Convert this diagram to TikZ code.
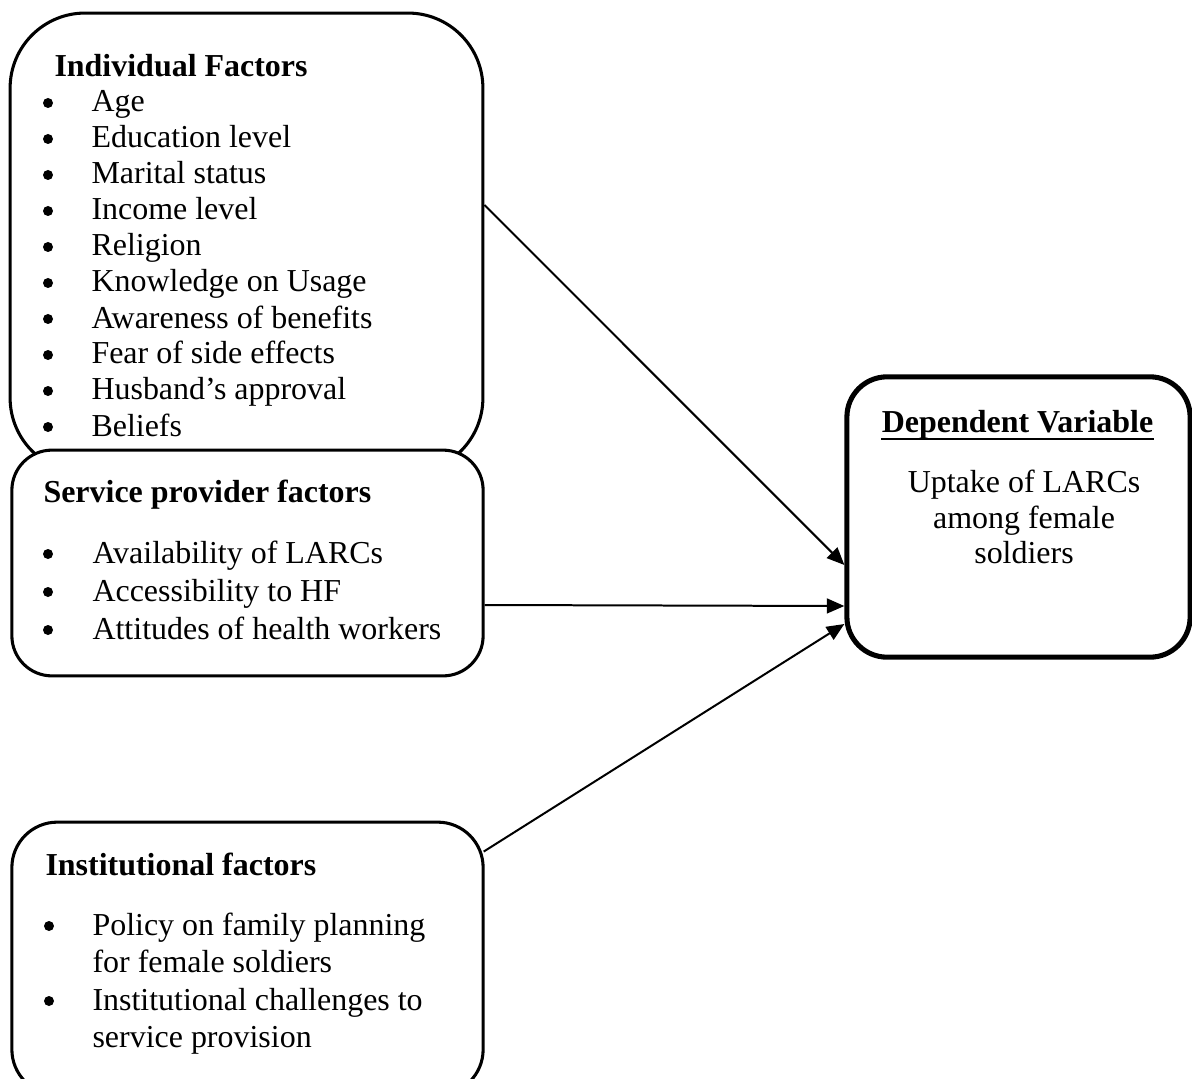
\documentclass[tikz,border=0pt,12pt]{standalone}
\usepackage{fontspec}
\setmainfont{Liberation Serif}
\usetikzlibrary{calc,arrows.meta}
\tikzset{factorbox/.style={draw = black, line width=1.15pt, fill=white,
    inner sep=0pt, rounded corners=#1},
  factorbox/.default=0.53cm,
  itemtext/.style={anchor=base west, inner sep=0pt},
  headtext/.style={anchor=base west, inner sep=0pt, font=\bfseries},
  link/.style={-{Triangle[length=6.6pt,width=5.6pt]}, line width=0.75pt}}

\begin{document}
\begin{tikzpicture}[x=0.0132cm, y=-0.0132cm]

    \useasboundingbox (0,0) rectangle (1192,1078);

    %Boxes
    \node[factorbox=0.99cm,
        minimum width = 6.24cm,
        minimum height = 6.07cm] (indiv) at (246.5,243) {};
    \node[factorbox,
        minimum width = 6.22cm,
        minimum height = 2.98cm] (serv) at (247.5,563) {};
    \node[factorbox=0.6cm,
        minimum width = 6.22cm,
        minimum height = 3.6cm] (inst) at (247.5,958.5) {};
    \node[factorbox, line width=1.9pt,
        minimum width = 4.53cm,
        minimum height = 3.7cm] (dep) at (1018.5,517) {};

    %Headings
    \node[headtext] (indivhead) at (54,77) {Individual Factors};
    \node[headtext] (servhead) at (43,502) {Service provider factors};
    \node[headtext] (insthead) at (45,875) {Institutional factors};

    %Lists
    \foreach \t [count=\i from 0] in {Age, Education level, Marital status,
        Income level, Religion, Knowledge on Usage, Awareness of benefits,
        Fear of side effects, Husband's approval, Beliefs}{
        \fill (48,{103+36*\i}) circle(0.066cm);
        \node[itemtext] (indiv\i) at (91,{112+36*\i}) {\t};
    }
    \foreach \t [count=\i from 0] in {Availability of LARCs,
        Accessibility to HF, Attitudes of health workers}{
        \fill (48,{554+38*\i}) circle(0.066cm);
        \node[itemtext] (serv\i) at (92,{563+38*\i}) {\t};
    }
    \fill (49,926)  circle(0.066cm);
    \node[itemtext] (inst0) at (92,935) {Policy on family planning};
    \node[itemtext] (inst1) at (92,972) {for female soldiers};
    \fill (49,1001) circle(0.066cm);
    \node[itemtext] (inst2) at (92,1010) {Institutional challenges to};
    \node[itemtext] (inst3) at (92,1047) {service provision};

    %Dependent variable
    \node[anchor=base, inner sep=0pt] (deptitle) at (1017.5,432)
        {\textbf{Dependent Variable}};
    \draw[line width=0.9pt] ($(deptitle.base west)+(0,7)$)
        -- ($(deptitle.base east)+(0,7)$);
    \node[anchor=base, inner sep=0pt] (dep1) at (1024,492) {Uptake of LARCs};
    \node[anchor=base, inner sep=0pt] (dep2) at (1024,528) {among female};
    \node[anchor=base, inner sep=0pt] (dep3) at (1024,563) {soldiers};

    %Arrows
    \draw[link]($(indiv.east)+(0,-38)$)--($(dep.west)+(0,48)$);
    \draw[link]($(serv.east)+(0,42)$)--($(dep.west)+(0,89)$);
    \draw[link]($(inst.north east)+(-1,31)$)--($(dep.west)+(0,107)$);

\end{tikzpicture}
\end{document}
